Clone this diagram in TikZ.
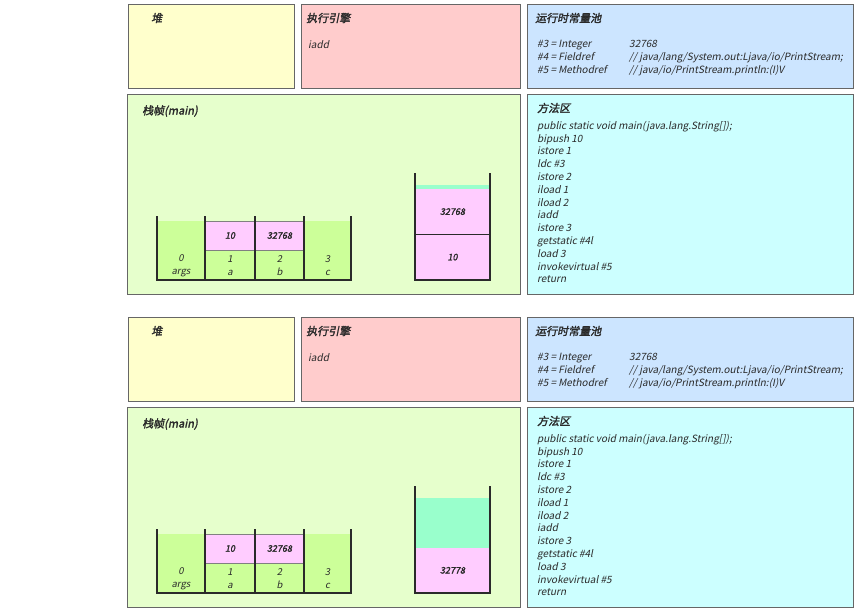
\documentclass[tikz,border=0pt]{standalone}
\usepackage{fontspec}
\newfontfamily\jvmfont{Noto Sans CJK SC}[FakeSlant=0.2]
\newfontfamily\jvmbold{Noto Sans CJK SC}[FakeSlant=0.2, FakeBold=2]
\usetikzlibrary{positioning}

\definecolor{heapc}{HTML}{FFFFCC}
\definecolor{enginec}{HTML}{FFCCCC}
\definecolor{poolc}{HTML}{CCE5FF}
\definecolor{framec}{HTML}{E6FFCC}
\definecolor{methodc}{HTML}{CCFFFF}
\definecolor{slotc}{HTML}{CCFF99}
\definecolor{valc}{HTML}{FFCCFF}
\definecolor{freec}{HTML}{99FFCC}
\definecolor{edgec}{HTML}{666666}
\definecolor{inkc}{HTML}{2A2A2A}

\begin{document}
\begin{tikzpicture}[x=1pt, y=-1pt,
    panel/.style={draw=edgec, line width=0.9pt, inner sep=0pt, outer sep=0pt},
    title/.style={anchor=west, inner sep=0pt, text=inkc, font=\jvmbold\fontsize{11}{13}\selectfont},
    txt/.style={anchor=west, inner sep=0pt, text=inkc, font=\jvmfont\fontsize{10}{12.8}\selectfont},
    slot/.style={inner sep=0pt, outer sep=0pt, fill=slotc, minimum height=59pt},
    val/.style={draw=gray, line width=0.8pt, inner sep=0pt, outer sep=0pt, fill=valc, minimum height=29pt, text=inkc, font=\jvmbold\fontsize{9}{11}\selectfont},
    idx/.style={inner sep=0pt, align=center, text=inkc, font=\jvmfont\fontsize{9.5}{13}\selectfont},
    opd/.style={inner sep=0pt, outer sep=0pt, minimum width=75pt, text=inkc, font=\jvmbold\fontsize{9}{11}\selectfont},
    wall/.style={draw=inkc, line width=1.2pt}
]
    \useasboundingbox (0,0) rectangle (861,614);

    \foreach \dy/\s in {0/a, 313/b} {
        % panels
        \node[panel, fill=heapc, minimum width=166pt, minimum height=84pt] (heap\s) at (211, 46+\dy) {};
        \node[panel, fill=enginec, minimum width=219pt, minimum height=84pt] (engine\s) at (410.5, 46+\dy) {};
        \node[panel, fill=poolc, minimum width=326pt, minimum height=84pt] (pool\s) at (690, 46+\dy) {};
        \node[panel, fill=framec, minimum width=393pt, minimum height=200pt] (frame\s) at (323.5, 194+\dy) {};
        \node[panel, fill=methodc, minimum width=326pt, minimum height=200pt] (method\s) at (690, 194+\dy) {};

        \node[title] (heapT\s) at (151, 18+\dy) {堆};
        \node[title] (engineT\s) at (306, 18+\dy) {执行引擎};
        \node[txt] (instr\s) at (308, 44.5+\dy) {iadd};
        \node[title] (poolT\s) at (535, 18+\dy) {运行时常量池};
        \node[txt] (consts\s) at (537, 58+\dy) {%
            \begin{tabular}{@{}p{92pt}@{}l@{}}
            \#3 = Integer & 32768\\
            \#4 = Fieldref & // java/lang/System.out:Ljava/io/PrintStream;\\
            \#5 = Methodref & // java/io/PrintStream.println:(I)V
            \end{tabular}};
        \node[title] (frameT\s) at (142, 111+\dy) {栈帧(main)};
        \node[title] (methodT\s) at (537, 108+\dy) {方法区};
        \node[txt, anchor=north west, align=left] (code\s) at (537, 121+\dy) {%
            public static void main(java.lang.String[]);\\
            bipush 10\\ istore 1\\ ldc \#3\\ istore 2\\ iload 1\\ iload 2\\
            iadd\\ istore 3\\ getstatic \#4l\\ load 3\\ invokevirtual \#5\\ return};

        % local variable table
        \node[slot, minimum width=48pt] (lv0\s) at (181, 250.5+\dy) {};
        \node[slot, minimum width=50pt] (lv1\s) at (230, 250.5+\dy) {};
        \node[slot, minimum width=49pt] (lv2\s) at (279.5, 250.5+\dy) {};
        \node[slot, minimum width=47pt] (lv3\s) at (327.5, 250.5+\dy) {};
        \node[val, minimum width=50pt] (va\s) at (230, 235.5+\dy) {10};
        \node[val, minimum width=49pt] (vb\s) at (279.5, 235.5+\dy) {32768};
        \node[idx] (i0\s) at (181, 265.5+\dy) {0\\args};
        \node[idx] (i1\s) at (230, 265.5+\dy) {1\\a};
        \node[idx] (i2\s) at (279.5, 265.5+\dy) {2\\b};
        \node[idx] (i3\s) at (327.5, 265.5+\dy) {3\\c};
        \draw[wall] ([yshift=5pt]lv0\s.north west) -- (lv0\s.south west) -- (lv3\s.south east) -- ([yshift=5pt]lv3\s.north east);
        \foreach \k in {1,2,3}
            \draw[wall] ([yshift=5pt]lv\k\s.north west) -- (lv\k\s.south west);

        % operand stack walls
        \coordinate (opTL\s) at (415, 173+\dy);
        \coordinate (opBL\s) at (415, 280+\dy);
        \coordinate (opBR\s) at (490, 280+\dy);
        \coordinate (opTR\s) at (490, 173+\dy);
    }

    % operand stack before iadd
    \node[opd, fill=freec, minimum height=4pt] (topa) at (452.5, 187) {};
    \node[opd, fill=valc, minimum height=45.3pt] (s2a) at (452.5, 211.6) {32768};
    \node[opd, fill=valc, minimum height=45.7pt] (s1a) at (452.5, 257.1) {10};
    \draw[draw=inkc, line width=0.8pt] (s1a.north west) -- (s1a.north east);

    % operand stack after iadd
    \node[opd, fill=freec, minimum height=50pt] (topb) at (452.5, 522.7) {};
    \node[opd, fill=valc, minimum height=45.3pt] (s1b) at (452.5, 570.3) {32778};

    \foreach \s in {a, b}
        \draw[wall] (opTL\s) -- (opBL\s) -- (opBR\s) -- (opTR\s);
\end{tikzpicture}
\end{document}
